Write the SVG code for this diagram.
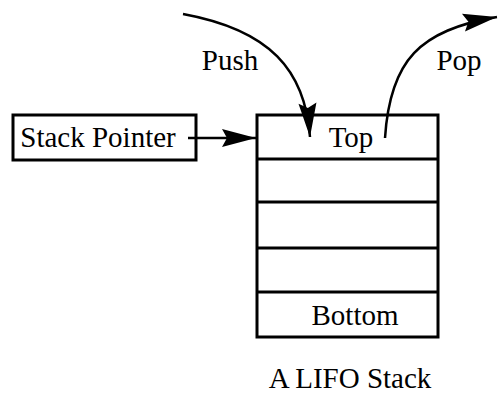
<svg xmlns="http://www.w3.org/2000/svg" width="498" height="394" viewBox="0 0 498 394">
<style>
.box{fill:#fff;stroke:#000;stroke-width:3}
.line{fill:none;stroke:#000;stroke-width:2.5}
.t{font-family:"Liberation Serif","Times New Roman",serif;font-size:29px;fill:#000;text-anchor:middle}
</style>
<defs>
<marker id="ah" markerUnits="userSpaceOnUse" markerWidth="40" markerHeight="24" viewBox="-36 -12 38 24" refX="0" refY="0" orient="auto">
<path d="M0,0 L-34,-9 L-29,0 L-34,9 Z" fill="#000"/>
</marker>
</defs>
<rect width="498" height="394" fill="#fff"/>
<g id="stack-pointer">
<rect class="box" x="13" y="115" width="183" height="45"/>
<text class="t" x="98" y="147">Stack Pointer</text>
</g>
<g id="stack">
<rect class="box" x="257" y="115" width="181" height="222"/>
<line class="box" x1="257" y1="159" x2="438" y2="159"/>
<line class="box" x1="257" y1="202" x2="438" y2="202"/>
<line class="box" x1="257" y1="248" x2="438" y2="248"/>
<line class="box" x1="257" y1="292" x2="438" y2="292"/>
<text class="t" x="351" y="147">Top</text>
<text class="t" x="355" y="325">Bottom</text>
</g>
<g id="caption">
<text class="t" x="350" y="388">A LIFO Stack</text>
</g>
<g id="labels">
<text class="t" x="230" y="70">Push</text>
<text class="t" x="459" y="70">Pop</text>
</g>
<g id="connectors">
<path class="line" d="M188,138 L256,138" marker-end="url(#ah)"/>
<path class="line" d="M183,14 C270,30 305,70 310,137" marker-end="url(#ah)"/>
<path class="line" d="M385,138 C390,60 420,30 497,17" marker-end="url(#ah)"/>
</g>
</svg>
